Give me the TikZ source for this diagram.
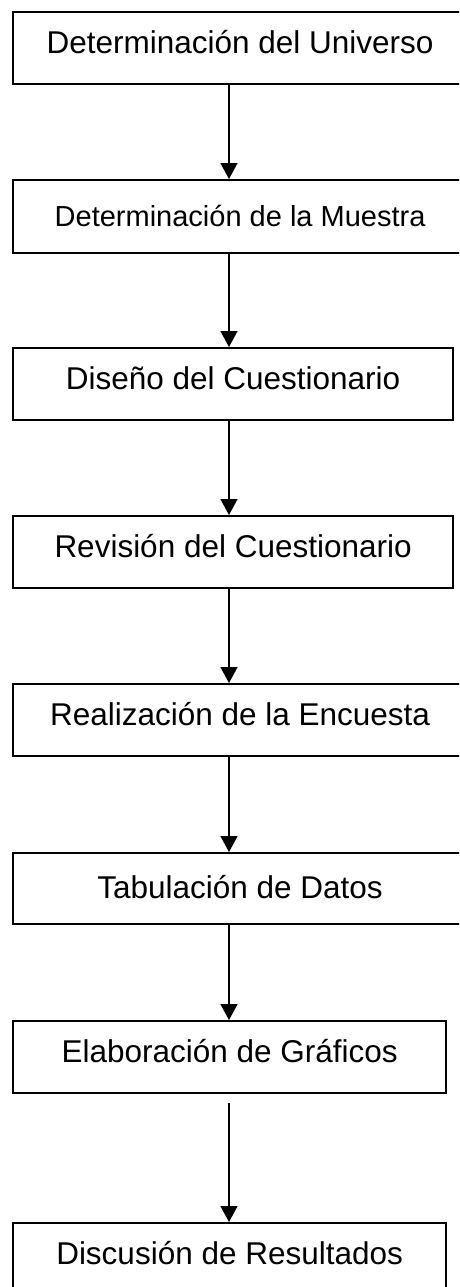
\documentclass[tikz,border=0pt]{standalone}
\usepackage{fontspec}
\setmainfont{Liberation Sans}
\usetikzlibrary{arrows.meta,positioning}

\begin{document}
\begin{tikzpicture}[
    x=1pt, y=1pt,
    box/.style={rectangle, draw, line width=2.2pt, inner sep=0pt, anchor=north west, text height=41pt, text depth=31pt, font=\fontsize{31.5}{36}\selectfont},
    arrow/.style={-{Triangle[width=17pt,length=16pt]}, line width=1.5pt}
]
\useasboundingbox (0,0) rectangle (459,-1287);
\clip (0,0) rectangle (459,-1287);

\coordinate (ax) at (229,0);
\node[box, minimum width=454pt] (universo) at (12,-11) {Determinación del Universo};
\node[box, minimum width=454pt, text height=46pt, text depth=27pt, font=\fontsize{29}{34}\selectfont] (muestra) at (12,-179) {Determinación de la Muestra};
\node[box, minimum width=440pt] (diseno) at (12,-347) {Diseño del Cuestionario};
\node[box, minimum width=440pt] (revision) at (12,-515) {Revisión del Cuestionario};
\node[box, minimum width=454pt] (encuesta) at (12,-683) {Realización de la Encuesta};
\node[box, minimum width=454pt, text height=45pt, text depth=26pt] (tabulacion) at (12,-852) {Tabulación de Datos};
\node[box, minimum width=433pt] (graficos) at (12,-1020) {Elaboración de Gráficos};
\node[box, minimum width=433pt] (discusion) at (12,-1222) {Discusión de Resultados};

\draw[arrow] (universo.south -| ax) -- (muestra.north -| ax);
\draw[arrow] (muestra.south -| ax) -- (diseno.north -| ax);
\draw[arrow] (diseno.south -| ax) -- (revision.north -| ax);
\draw[arrow] (revision.south -| ax) -- (encuesta.north -| ax);
\draw[arrow] (encuesta.south -| ax) -- (tabulacion.north -| ax);
\draw[arrow] (tabulacion.south -| ax) -- (graficos.north -| ax);
\draw[arrow, shorten <=9pt] (graficos.south -| ax) -- (discusion.north -| ax);
\end{tikzpicture}
\end{document}
